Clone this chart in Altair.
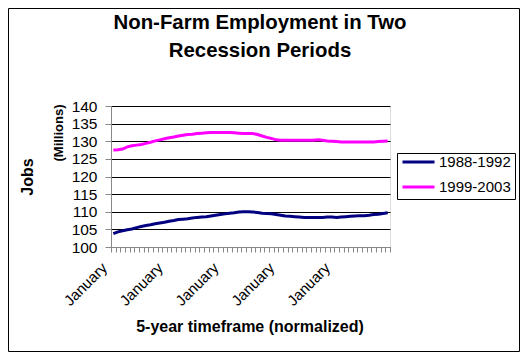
import altair as alt
import pandas as pd

series_names = ["1988-1992", "1999-2003"]
series_colors = ["#000080", "#FF00FF"]

jobs_1988_1992 = [
    103.8, 104.3, 104.6, 104.9, 105.1, 105.5, 105.8, 106.1, 106.3, 106.6,
    106.8, 107.0, 107.3, 107.5, 107.8, 107.9, 108.0, 108.2, 108.4, 108.5,
    108.6, 108.8, 109.0, 109.2, 109.4, 109.6, 109.7, 109.9, 110.0, 110.0,
    109.9, 109.8, 109.6, 109.5, 109.4, 109.2, 109.0, 108.8, 108.7, 108.6,
    108.5, 108.4, 108.4, 108.4, 108.4, 108.4, 108.5, 108.5, 108.4, 108.5,
    108.6, 108.7, 108.8, 108.9, 108.9, 109.0, 109.2, 109.3, 109.5, 109.7,
]
jobs_1999_2003 = [
    127.5, 127.6, 127.8, 128.4, 128.7, 128.9, 129.1, 129.4, 129.7, 130.1,
    130.4, 130.7, 131.0, 131.2, 131.5, 131.7, 131.9, 132.0, 132.2, 132.3,
    132.4, 132.5, 132.5, 132.5, 132.5, 132.5, 132.4, 132.3, 132.2, 132.2,
    132.2, 131.9, 131.5, 131.1, 130.8, 130.4, 130.3, 130.3, 130.3, 130.3,
    130.3, 130.3, 130.3, 130.3, 130.4, 130.3, 130.1, 130.0, 129.9, 129.8,
    129.8, 129.8, 129.8, 129.8, 129.8, 129.8, 129.8, 129.9, 130.0, 130.1,
]
y_ticks = [100, 105, 110, 115, 120, 125, 130, 135, 140]
x_label = "January"
title_lines = ["Non-Farm Employment in Two", "Recession Periods"]
x_title = "5-year timeframe (normalized)"
y_title = "Jobs"
y_subtitle = "(Millions)"

n_months = len(jobs_1988_1992)
rows = []
for name, vals in zip(series_names, [jobs_1988_1992, jobs_1999_2003]):
    for i, v in enumerate(vals):
        rows.append({"month": i, "pos": i + 0.5, "value": v, "series": name})
df = pd.DataFrame(rows)
one = pd.DataFrame({"k": [0]})

FONT = "Liberation Sans"

lines = alt.Chart(df).mark_line(strokeWidth=3).encode(
    x=alt.X(
        "pos:Q",
        scale=alt.Scale(domain=[0, n_months], nice=False, zero=False),
        axis=alt.Axis(
            values=list(range(n_months + 1)),
            labelExpr=f"datum.value % 12 == 0 && datum.value < {n_months} ? '{x_label}' : ''",
            grid=False, tickSize=5, labelAngle=-45, labelAlign="right",
            labelBaseline="top", labelPadding=8, labelOffset=-12, labelFontSize=15,
            labelOverlap=False, labelFlush=False, title=None,
        ),
    ),
    y=alt.Y(
        "value:Q",
        scale=alt.Scale(domain=[100, 140], nice=False, zero=False),
        axis=alt.Axis(
            values=y_ticks, grid=True, gridColor="black", gridOpacity=1,
            gridWidth=1, tickSize=6, labelPadding=8, labelFontSize=15.5,
            title=None,
        ),
    ),
    color=alt.Color(
        "series:N",
        scale=alt.Scale(domain=series_names, range=series_colors),
        legend=alt.Legend(
            title=None, orient="none", legendX=286, legendY=47,
            symbolType="stroke", symbolSize=1024, symbolStrokeWidth=3,
            labelFontSize=15, labelFont=FONT, labelColor="black",
            strokeColor="black", fillColor="white", padding=4,
            clipHeight=10, rowPadding=10, labelOffset=3,
        ),
    ),
)

border = alt.Chart(one).mark_rect(fillOpacity=0, stroke="black", strokeWidth=1).encode(
    x=alt.value(-102.5), x2=alt.value(408.5), y=alt.value(-97.5), y2=alt.value(245.5)
)

title = alt.Chart(one).mark_text(
    text=title_lines, font=FONT, fontSize=20.4, fontWeight="bold",
    align="center", baseline="alphabetic", lineHeight=28, color="black",
).encode(x=alt.value(149), y=alt.value(-77))

ytitle = alt.Chart(one).mark_text(
    text=y_title, font=FONT, fontSize=16, fontWeight="bold", angle=270,
    align="center", baseline="middle", color="black",
).encode(x=alt.value(-83), y=alt.value(71))

ysub = alt.Chart(one).mark_text(
    text=y_subtitle, font=FONT, fontSize=13, fontWeight="bold", angle=270,
    align="center", baseline="middle", color="black",
).encode(x=alt.value(-52.5), y=alt.value(27))

xtitle = alt.Chart(one).mark_text(
    text=x_title, font=FONT, fontSize=16, fontWeight="bold",
    align="center", baseline="alphabetic", color="black",
).encode(x=alt.value(139), y=alt.value(226))

chart = alt.layer(lines, border, title, ytitle, ysub, xtitle).properties(
    width=279, height=141,
    autosize=alt.AutoSizeParams(type="none"),
    padding={"left": 103, "top": 98, "right": 130, "bottom": 105},
).configure_view(stroke="black", strokeWidth=1).configure_axis(
    domainColor="black", tickColor="black", labelColor="black",
    labelFont=FONT, domainWidth=1,
).configure(background="white")

chart.save("out.html", embed_options={"renderer": "svg", "actions": False})
